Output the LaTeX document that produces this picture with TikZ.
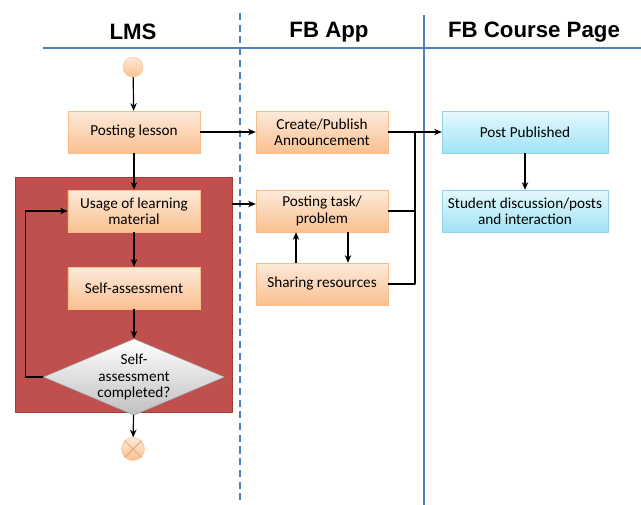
\documentclass[tikz,border=0pt]{standalone}
\usepackage{fontspec}
\setmainfont{Carlito}
\newfontfamily\headfont{Liberation Sans}
\usetikzlibrary{arrows.meta,shapes.geometric}

\definecolor{laneblue}{RGB}{79,129,189}
\definecolor{looped}{RGB}{192,80,77}
\definecolor{looprim}{RGB}{160,60,58}
\definecolor{orangetop}{RGB}{253,234,218}
\definecolor{orangebot}{RGB}{250,192,144}
\definecolor{orangeedge}{RGB}{247,190,140}
\definecolor{crossline}{RGB}{238,168,115}
\definecolor{bluetop}{RGB}{228,249,253}
\definecolor{bluebot}{RGB}{160,227,245}
\definecolor{blueedge}{RGB}{150,210,230}
\definecolor{greyedge}{RGB}{150,150,150}

\begin{document}
\begin{tikzpicture}[x=0.03cm, y=-0.03cm, >=Stealth, line join=round,
  lane/.style={laneblue, line width=1.2pt},
  arr/.style={->, line width=1pt, >={Stealth[length=6.5pt,width=5.5pt]}},
  conn/.style={line width=1pt},
  box/.style={draw=orangeedge, top color=orangetop, bottom color=orangebot,
    minimum width=3.96cm, minimum height=1.26cm, align=center, inner sep=2pt,
    font=\fontsize{13}{13.9}\selectfont},
  fbbox/.style={box, draw=blueedge, top color=bluetop, bottom color=bluebot,
    minimum width=4.98cm},
  title/.style={font=\headfont\bfseries\fontsize{19}{22}\selectfont}]
  \useasboundingbox (0,0) rectangle (641,505);

  % swimlanes
  \draw[lane] (43,48) -- (641,48);
  \draw[lane, dashed, dash pattern=on 6pt off 4pt] (240,13) -- (240,505);
  \draw[lane] (424,15) -- (424,505);
  \node[title] (tlms) at (133,32) {LMS};
  \node[title] (tapp) at (329,32) {FB App};
  \node[title] (tpage) at (534,32) {FB Course Page};

  % LMS lane
  \node[fill=looped, draw=looprim, minimum width=6.51cm, minimum height=7.05cm,
    inner sep=0pt] (region) at (123.5,294.5) {};
  \node[circle, draw=orangeedge, top color=orangetop, bottom color=orangebot,
    minimum size=0.6cm, inner sep=0pt] (start) at (133,67) {};
  \node[box] (lesson) at (134,132) {Posting lesson};
  \node[box] (usage) at (134,211) {Usage of learning\\material};
  \node[box] (self) at (134,288) {Self-assessment};
  \node[diamond, draw=greyedge, top color=white, bottom color=black!25,
    aspect=2.37, inner sep=0pt, minimum width=5.34cm, minimum height=2.25cm,
    align=center, font=\fontsize{13}{13.9}\selectfont] (done) at (134,377)
    {Self-\\assessment\\completed?};
  \node[circle, draw=orangeedge, top color=orangetop, bottom color=orangebot,
    minimum size=0.69cm, inner sep=0pt] (stop) at (133,449) {};
  \draw[crossline, line width=0.9pt] (stop.north west) -- (stop.south east)
    (stop.north east) -- (stop.south west);

  % FB App lane
  \node[box] (announce) at (322,132) {Create/Publish\\Announcement};
  \node[box] (task) at (322,211) {Posting task/\\problem};
  \node[box] (share) at (322,284) {Sharing resources};

  % FB Course Page lane
  \node[fbbox] (post) at (525,132) {Post Published};
  \node[fbbox] (discuss) at (525,211) {Student discussion/posts\\and interaction};

  % connectors
  \draw[arr] (start) -- (lesson);
  \draw[arr] (lesson) -- (usage);
  \draw[arr] (usage) -- (self);
  \draw[arr] (self) -- (done);
  \draw[arr] (done) -- (stop);
  \draw[arr] (done.west) -- ++(-18,0) |- (usage.west);
  \draw[arr] (lesson) -- (announce);
  \coordinate (taskin) at ([yshift=0.21cm]task.west);
  \draw[arr] (region.east |- taskin) -- (taskin);
  \coordinate (join) at (415,132);
  \draw[arr] (announce) -- (post);
  \draw[conn] (task.east) -| (join);
  \draw[conn] (share.east) -| (join);
  \draw[arr] (share.north -| 296,0) -- (task.south -| 296,0);
  \draw[arr] (task.south -| 348,0) -- (share.north -| 348,0);
  \draw[arr] (post) -- (discuss);
\end{tikzpicture}
\end{document}
